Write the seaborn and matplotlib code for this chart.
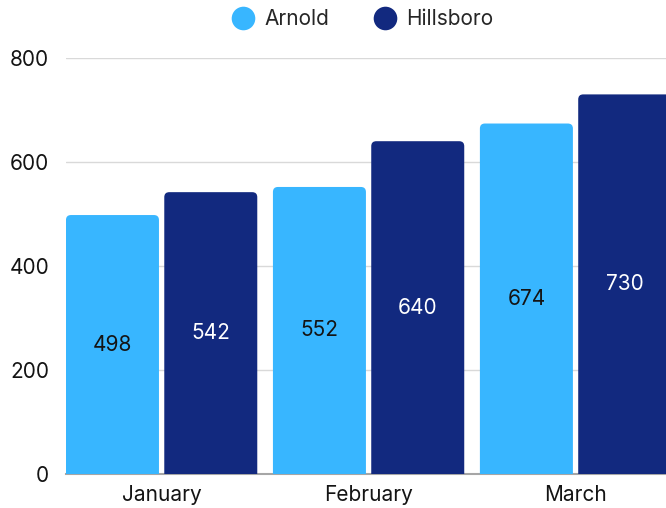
import pandas as pd
import matplotlib
matplotlib.use("Agg")
import matplotlib.pyplot as plt
import seaborn as sns
from matplotlib.patches import FancyBboxPatch
from matplotlib.lines import Line2D

months = ["January", "February", "March"]
arnold = [498, 552, 674]
hillsboro = [542, 640, 730]
series_names = ["Arnold", "Hillsboro"]
colors = ["#38B6FF", "#12297F"]
label_colors = ["#141414", "white"]
y_ticks = [0, 200, 400, 600, 800]

df = pd.DataFrame({
    "month": months * 2,
    "store": [series_names[0]] * 3 + [series_names[1]] * 3,
    "value": arnold + hillsboro,
})

sns.set_theme(style="white")
plt.rcParams["font.family"] = ["Inter", "DejaVu Sans"]

fig = plt.figure(figsize=(6.66, 5.08), dpi=100)
ax = fig.add_axes([66 / 666, 34 / 508, 600 / 666, 416 / 508])

sns.barplot(data=df, x="month", y="value", hue="store", palette=colors,
            width=0.95, gap=0.054, legend=False, ax=ax, saturation=1)

ax.set_xlim(-0.462, 2.437)
ax.set_ylim(0, 800)

# swap the plain bars for ones with rounded tops
px_per_x = 600 / (2.437 + 0.462)
px_per_y = 416 / 800
aspect = px_per_x / px_per_y
radius = 5 / px_per_x
for i, cont in enumerate(ax.containers):
    for bar in cont.patches:
        x, w, h = bar.get_x(), bar.get_width(), bar.get_height()
        bar.remove()
        rb = FancyBboxPatch((x, -30), w, h + 30,
                            boxstyle=f"round,pad=0,rounding_size={radius}",
                            mutation_aspect=aspect, facecolor=colors[i],
                            edgecolor="none", zorder=3, clip_on=True)
        ax.add_patch(rb)
        ax.text(x + w / 2, h / 2, f"{h:.0f}", ha="center", va="center",
                fontsize=15, color=label_colors[i], zorder=4)

ax.set_yticks(y_ticks)
ax.yaxis.grid(True, color="#d9d9d9", linewidth=1)
ax.set_axisbelow(True)
for side in ["top", "right", "left"]:
    ax.spines[side].set_visible(False)
ax.spines["bottom"].set_color("#a6a6a6")
ax.spines["bottom"].set_linewidth(1.5)
ax.spines["bottom"].set_zorder(2)
ax.tick_params(axis="both", length=0, labelsize=15, colors="#141414")
ax.tick_params(axis="y", pad=12)
ax.tick_params(axis="x", pad=8)
ax.set_xlabel("")
ax.set_ylabel("")

handles = [Line2D([], [], marker="o", linestyle="none", markersize=17,
                  markerfacecolor=c, markeredgecolor="none") for c in colors]
fig.legend(handles, series_names, loc="center", ncol=2, frameon=False,
           bbox_to_anchor=(363 / 666, 1 - 19 / 508), fontsize=15,
           handletextpad=0.5, columnspacing=2.2, handlelength=1.0)

fig.savefig("out.png", dpi=100)
